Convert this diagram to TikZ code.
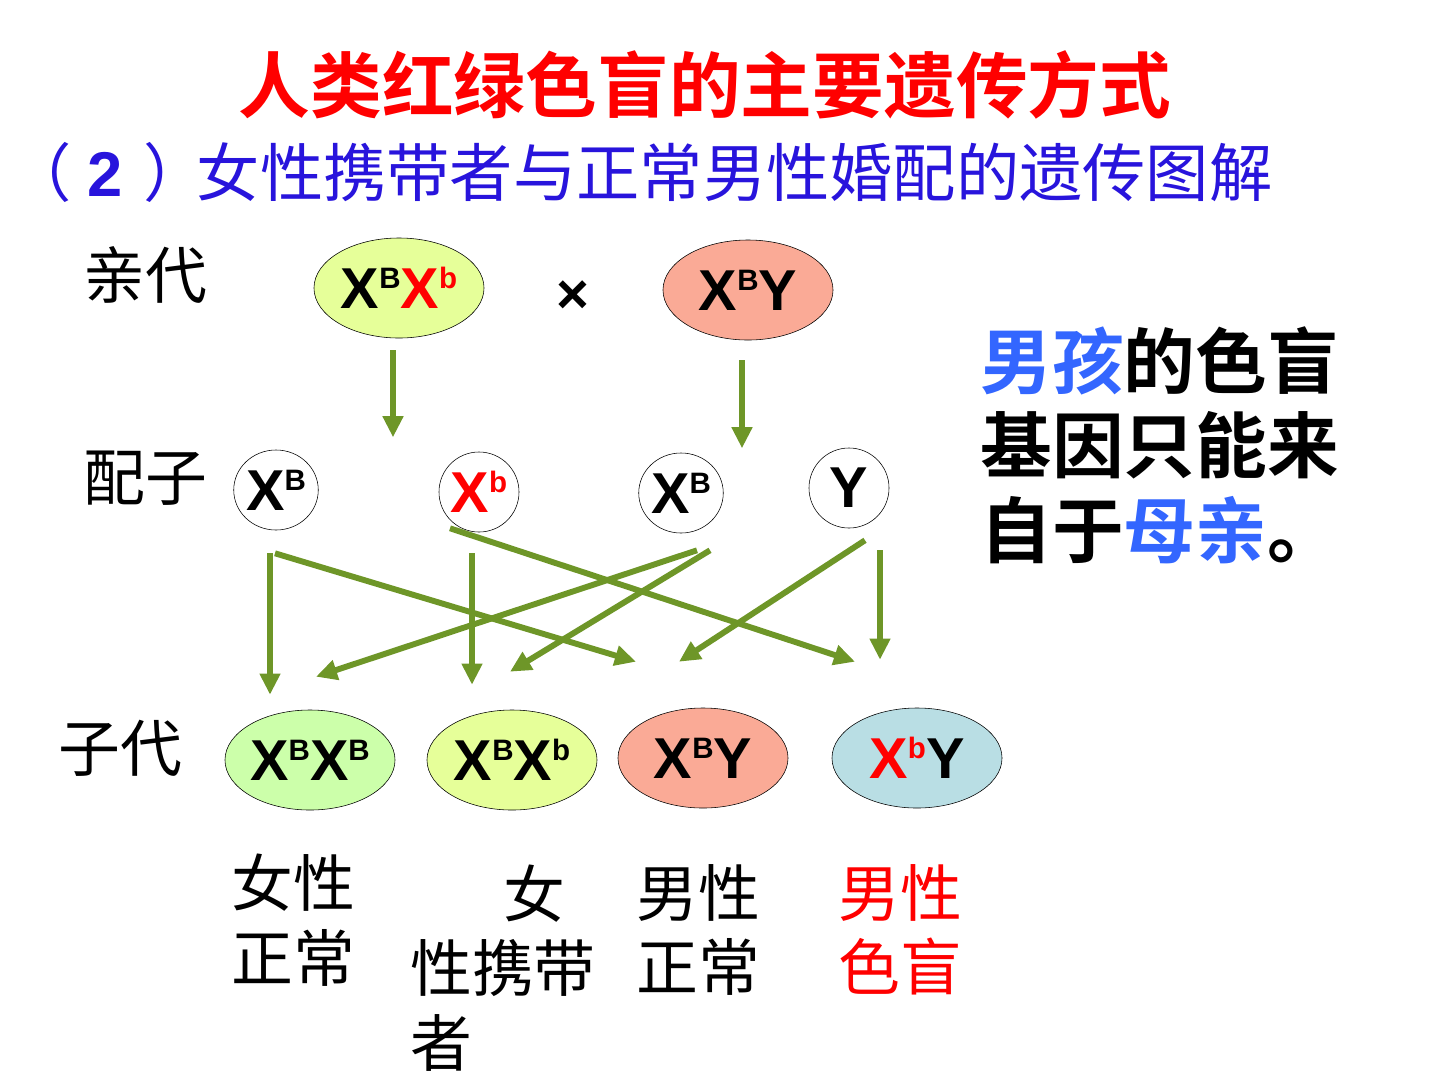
\documentclass[tikz,border=0pt]{standalone}
\usepackage{fontspec}
\setmainfont{Liberation Sans}
\newfontfamily\cjk{Noto Sans CJK SC}[BoldFont={Noto Sans CJK SC Bold}]
\usetikzlibrary{shapes.geometric, arrows.meta, positioning}
\definecolor{arrowgreen}{RGB}{110,150,40}
\definecolor{mumfill}{RGB}{230,255,153}
\definecolor{girlfill}{RGB}{204,255,170}
\definecolor{dadfill}{RGB}{250,170,150}
\definecolor{boyfill}{RGB}{185,222,228}
\definecolor{subblue}{RGB}{40,20,220}
\definecolor{noteblue}{RGB}{51,102,255}
\tikzstyle{parent} = [draw, ellipse, minimum width=4.25cm, minimum height=2.5cm, inner sep=0pt, font=\genefont]
\tikzstyle{gamete} = [draw, fill=white, ellipse, minimum width=2cm, minimum height=2cm, inner sep=0pt, font=\genefont]
\tikzstyle{flow} = [draw=arrowgreen, line width=4.2pt, -{Triangle[width=14pt,length=15pt]}]
\tikzstyle{desc} = [font=\cjk\fontsize{44}{53}\selectfont, align=center, inner sep=0pt]
\newcommand{\genefont}{\bfseries\fontsize{41}{41}\selectfont}
\newcommand{\genesup}[1]{\raisebox{14pt}{\fontsize{21}{21}\selectfont #1}}

\begin{document}
\begin{tikzpicture}[x=0.025cm, y=-0.025cm]
  \useasboundingbox (0,0) rectangle (1440,1080);
  % headings
  \node[font=\cjk\bfseries\fontsize{51}{51}\selectfont, text=red] (title) at (705,85) {人类红绿色盲的主要遗传方式};
  \node[font=\cjk\fontsize{45}{45}\selectfont, text=subblue, anchor=west, inner sep=0pt] (sub) at (8,172) {（\hspace{11pt}{\rmfamily\bfseries 2}\hspace{15pt}）\hspace{-7pt}女性携带者与正常男性婚配的遗传图解};
  % row labels
  \node[desc] (lp) at (145,275) {亲代};
  \node[desc] (lg) at (145,478) {配子};
  \node[desc] (lo) at (120,748) {子代};
  % parents
  \node[parent, fill=mumfill] (p1) at (399,288) {X\genesup{B}\textcolor{red}{X\genesup{b}}};
  \node[font=\bfseries\fontsize{40}{40}\selectfont] (cross) at (573,297) {×};
  \node[parent, fill=dadfill] (p2) at (748,290) {X\genesup{B}Y};
  % gametes
  \node[gamete] (g1) at (276,490) {X\genesup{B}};
  \node[gamete] (g2) at (479,492) {\textcolor{red}{X\genesup{b}}};
  \node[gamete] (g3) at (681,493) {X\genesup{B}};
  \node[gamete] (g4) at (849,488) {Y};
  % offspring
  \node[parent, fill=girlfill] (o1) at (310,760) {X\genesup{B}X\genesup{B}};
  \node[parent, fill=mumfill] (o2) at (512,760) {X\genesup{B}X\genesup{b}};
  \node[parent, fill=dadfill] (o3) at (703,758) {X\genesup{B}Y};
  \node[parent, fill=boyfill] (o4) at (917,758) {\textcolor{red}{X\genesup{b}}Y};
  % arrows
  \draw[flow] ([shift={(-6,12)}]p1.south) -- ([shift={(-6,99)}]p1.south);
  \draw[flow] ([shift={(-6,20)}]p2.south) -- ([shift={(-6,108)}]p2.south);
  \draw[flow] ([shift={(-6,23)}]g1.south) -- ([shift={(-40,-15)}]o1.north);
  \draw[flow] ([shift={(-1,23)}]g1.south) -- ([shift={(-67,-46)}]o3.north);
  \draw[flow] ([shift={(-29,-4)}]g2.south) -- ([shift={(-62,-46)}]o4.north);
  \draw[flow] ([shift={(-7,21)}]g2.south) -- ([shift={(-40,-25)}]o2.north);
  \draw[flow] ([shift={(16,17)}]g3.south) -- ([shift={(6,-33)}]o1.north);
  \draw[flow] ([shift={(29,17)}]g3.south) -- ([shift={(-2,-38)}]o2.north);
  \draw[flow] ([shift={(16,12)}]g4.south) -- ([shift={(-24,-46)}]o3.north);
  \draw[flow] ([shift={(31,22)}]g4.south) -- ([shift={(-37,-48)}]o4.north);
  % phenotypes
  \node[desc] (d1) at (293,920) {女性\\正常};
  \node[desc, align=left] (d2) at (503,968) {\hspace*{1.5em}女\\性携带\\者};
  \node[desc] (d3) at (698,930) {男性\\正常};
  \node[desc, text=red] (d4) at (900,930) {男性\\色盲};
  % note
  \node[font=\cjk\bfseries\fontsize{51}{60}\selectfont, align=left, anchor=west, inner sep=0pt] (note) at (980,445) {\textcolor{noteblue}{男孩}的色盲\\基因只能来\\自于\textcolor{noteblue}{母亲}。};
\end{tikzpicture}
\end{document}
